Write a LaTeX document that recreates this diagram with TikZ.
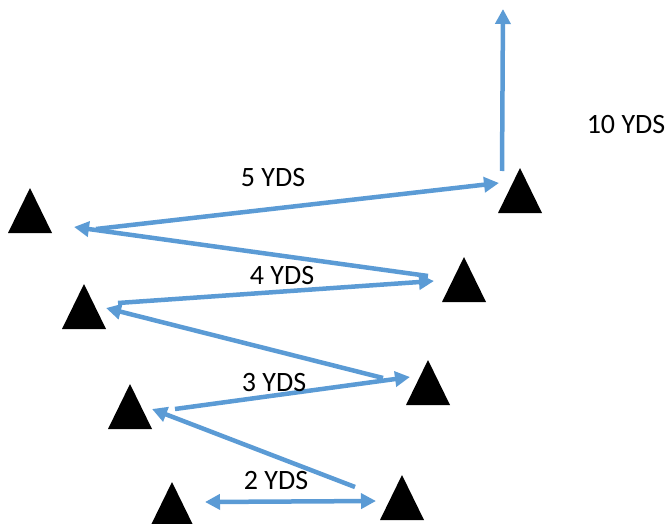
\documentclass[tikz,border=0pt]{standalone}
\usepackage{fontspec}
\setmainfont{Carlito}
\usetikzlibrary{arrows.meta}
\definecolor{routeblue}{HTML}{5B9BD5}
\tikzset{
  cone/.pic={\fill[black] (0,0) -- (22,45) -- (-22,45) -- cycle;},
  route/.style={draw=routeblue, line width=4.5pt, -{Triangle[length=15pt,width=15pt]}},
  yds/.style={anchor=base, inner sep=0pt, font=\fontsize{28}{32}\selectfont}
}
\begin{document}
\begin{tikzpicture}[x=1pt,y=-1pt]
\useasboundingbox (0,0) rectangle (669,524);
% cones
\pic at (172,482) {cone};
\pic at (402,475) {cone};
\pic at (130,384) {cone};
\pic at (428,360) {cone};
\pic at (84,284) {cone};
\pic at (464,257) {cone};
\pic at (30,188) {cone};
\pic at (520,168) {cone};
% route points
\coordinate (a1) at (205,502);
\coordinate (b1) at (376,501);
\coordinate (s2) at (355,487);
\coordinate (e2) at (152,409);
\coordinate (s3) at (175,409);
\coordinate (e3) at (410,377);
\coordinate (s4) at (383,378);
\coordinate (e4) at (106,308);
\coordinate (s5) at (118,303);
\coordinate (e5) at (434,281);
\coordinate (s6) at (428,276);
\coordinate (e6) at (74,227);
\coordinate (s7) at (96,229);
\coordinate (e7) at (499,183);
\coordinate (s8) at (502,171);
\coordinate (e8) at (503,9);
\draw[route, {Triangle[length=15pt,width=15pt]}-{Triangle[length=15pt,width=15pt]}] (a1) -- (b1);
\draw[route] (s2) -- (e2);
\draw[route] (s3) -- (e3);
\draw[route] (s4) -- (e4);
\draw[route] (s5) -- (e5);
\draw[route] (s6) -- (e6);
\draw[route] (s7) -- (e7);
\draw[route] (s8) -- (e8);
% labels
\node[yds] (l2) at (276,489) {2 YDS};
\node[yds] (l3) at (274,391) {3 YDS};
\node[yds] (l4) at (282,284) {4 YDS};
\node[yds] (l5) at (273,186) {5 YDS};
\node[yds] (l10) at (626,133) {10 YDS};
\end{tikzpicture}
\end{document}
